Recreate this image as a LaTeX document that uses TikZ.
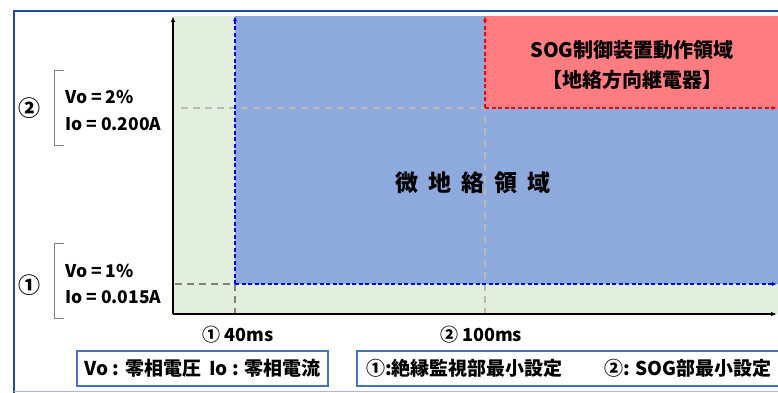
\documentclass[tikz,border=0pt]{standalone}
\usepackage{fontspec}
\setmainfont{Noto Sans CJK JP}
\usetikzlibrary{arrows.meta}
\definecolor{framecol}{RGB}{31,78,153}
\definecolor{edgecol}{RGB}{170,180,245}
\definecolor{zonegreen}{RGB}{226,239,218}
\definecolor{zoneblue}{RGB}{142,169,219}
\definecolor{zonered}{RGB}{255,124,128}
\definecolor{guidelight}{RGB}{185,185,185}
\definecolor{guidedark}{RGB}{128,128,128}
\definecolor{boxcol}{RGB}{68,114,196}
\tikzset{
  axis/.style={line width=1.6pt, -{Latex[length=6pt,width=4.5pt]}},
  bluedash/.style={blue, line width=1.6pt, dash pattern=on 4pt off 2.5pt, -{Latex[length=5pt,width=4pt]}},
  reddash/.style={red, line width=1.6pt, dash pattern=on 4pt off 2.5pt, -{Latex[length=5pt,width=4pt]}},
  guide/.style={line width=1.4pt, dash pattern=on 7pt off 5pt},
  lbl/.style={font=\bfseries\fontsize{17.5}{19}\selectfont, anchor=west, inner sep=0pt},
  circnum/.style={font=\bfseries\fontsize{22}{24}\selectfont, inner sep=0pt},
  tick/.style={font=\bfseries\fontsize{18}{20}\selectfont, inner sep=0pt},
  keybox/.style={draw=boxcol, line width=2pt, inner sep=0pt, minimum height=35pt},
  keytext/.style={font=\bfseries\fontsize{19}{21}\selectfont, inner sep=0pt}
}
\begin{document}
\begin{tikzpicture}[x=1pt, y=-1pt]
            \useasboundingbox (0,0) rectangle (778,393);
            \fill[white] (0,0) rectangle (778,393);
            \coordinate (O) at (173,314);
            \coordinate (Ytop) at (173,16);
            \coordinate (Xend) at (777,314);
            \coordinate (v1) at (175,284);
            \coordinate (v2) at (181,108);
            \coordinate (c1) at (235,284);
            \coordinate (c2) at (485,108);
            \coordinate (t1) at (235,313);
            \coordinate (t2) at (485,318);
            \fill[zonegreen] (174,16) rectangle (778,314);
            \fill[zoneblue] (235,16) rectangle (778,284);
            \fill[zonered] (485,16) rectangle (778,108);
            \draw[guide, guidelight] (v2) -- (c2) -- (t2);
            \draw[guide, guidedark] (v1) -- (c1) -- (t1);
            \draw[bluedash] (c1) -- (c1 |- Ytop);
            \draw[bluedash] (c1) -- (c1 -| Xend);
            \draw[reddash] (c2) -- (c2 |- Ytop);
            \draw[reddash] (c2) -- (c2 -| Xend);
            \draw[axis] (O) -- (Ytop);
            \draw[axis] (O) -- (Xend);
            \draw[framecol, line width=2.5pt] (14,393) -- (14,11) -- (778,11);
            \draw[edgecol, line width=1.5pt] (14,391.5) -- (778,391.5);
            \draw[guidedark, line width=0.9pt] (64,70) -- (54,70) -- (54,145) -- (64,145);
            \draw[guidedark, line width=0.9pt] (64,243) -- (54,243) -- (54,318) -- (64,318);
            \node[circnum] (n2) at (29,108) {②};
            \node[circnum] (n1) at (29,285) {①};
            \node[lbl] (vo2) at (65,97) {Vo = 2\%};
            \node[lbl] (io2) at (65,124) {Io = 0.200A};
            \node[lbl] (vo1) at (65,271) {Vo = 1\%};
            \node[lbl] (io1) at (65,297) {Io = 0.015A};
            \node[tick] (ms40) at (238,335) {① 40ms};
            \node[tick] (ms100) at (481,335) {② 100ms};
            \node[font=\bfseries\fontsize{23}{25}\selectfont, inner sep=0pt] (micro) at (473,183)
                {微\hskip10pt 地\hskip10pt 絡\hskip10pt 領\hskip10pt 域};
            \node[font=\bfseries\fontsize{20}{22}\selectfont, inner sep=0pt] (sog) at (632,50) {SOG制御装置動作領域};
            \node[font=\bfseries\fontsize{20}{22}\selectfont, inner sep=0pt] (relay) at (632,80) {【地絡方向継電器】};
            \node[keybox, keytext, minimum width=251pt] (key1) at (202.5,368.5) {Vo : 零相電圧\hskip8pt Io : 零相電流};
            \node[keybox, minimum width=450pt] (key2) at (582,368.5) {};
            \node[keytext, anchor=west] (key2a) at ([xshift=10pt]key2.west) {①:絶縁監視部最小設定};
            \node[keytext, anchor=east] (key2b) at (772,368.5) {②: SOG部最小設定};
\end{tikzpicture}
\end{document}
